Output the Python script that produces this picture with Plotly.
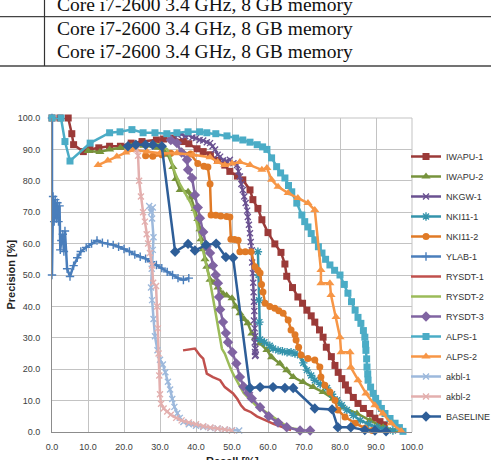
import plotly.graph_objects as go

# ---------------- data (Recall %, Precision %) ----------------
iwapu1_x = [0, 2.2, 4.5, 5.5, 6.0, 8.7, 10.5, 13, 16, 19, 22, 25, 29, 31, 33.6, 36.5, 38, 40.3, 42, 44, 46, 48,
            49.4, 51.5, 53, 55, 55.8, 57.2, 58.3, 60, 61.9, 63.6, 64.7, 65.2, 66.8, 68.3, 69.6, 70.8, 72, 73,
            74.3, 75.3, 76.2, 77.6, 78.6, 79.5, 80.5, 81.5, 82.3, 83.7, 85, 86.5, 88.3, 89.7, 91.1, 92.3]
iwapu1_y = [100, 100, 100, 95, 91.5, 89.3, 90, 90.5, 91, 91, 92, 92.5, 93, 93.3, 93.6, 92.5, 91.8, 90.2, 89.3,
            88.3, 86.5, 85, 83, 81.5, 80.3, 77.1, 74, 71.2, 67.6, 63.5, 59.9, 57.2, 53.5, 49.6, 46, 43, 41, 38.8,
            37, 35, 32.5, 30.2, 27, 24, 21.2, 19, 17, 15, 13.3, 11, 9.1, 7.5, 5.9, 4.4, 3.3, 2.3]

iwapu2_x = [10, 13.3, 16, 19, 22, 25.5, 29.4, 31, 32.2, 33.6, 34.4, 35.6, 37.8, 38.6, 39.7, 40.5, 41.1, 41.4,
            42, 42.5, 43, 43.9, 45, 46.1, 47.5, 48.5, 50, 51, 52.2, 53.3, 54.4, 55.5, 56.5, 57.8, 59.7, 61,
            63.3, 65.2, 67, 69.7, 72.5, 75.3, 78.1, 80.8, 84.7, 88.3, 92, 95.8]
iwapu2_y = [89.5, 89.2, 90, 90.5, 91, 91.2, 90.5, 89.5, 88.3, 84.4, 80.6, 77.1, 76.5, 74.8, 71, 67.8, 64.6,
            61.4, 58.2, 55, 52.6, 48.5, 47.5, 46, 44, 43.5, 42.6, 40, 37.8, 36, 34.6, 31.4, 30, 28.2, 26.1,
            23.8, 21.8, 19.7, 17.5, 15.9, 14.3, 12.7, 10.6, 7.9, 5.9, 3.7, 1.5, 0.5]

nkgw1_x = [35, 36, 37, 38, 39, 40, 41, 42, 43, 43.9, 44.6, 45.3, 46, 46.7, 47.5, 48.5, 49.4, 50.4, 51.4, 51.8,
           52.2, 52.6, 53, 53.4, 53.8, 54.2, 54.4, 54.7, 55, 55.2, 55.5, 55.6, 55.8, 55.9, 56, 56.1, 56.2, 56.1,
           56.3, 56.4, 56.3, 56.5, 56.4, 56.6, 56.4]
nkgw1_y = [94.5, 94.8, 94.2, 94.6, 93.8, 93.6, 93, 92.8, 92.3, 92, 91, 90, 88.3, 87.7, 86.5, 86.3, 86.7, 85.6,
           85, 83, 81.4, 79, 77.1, 75, 72.9, 70.5, 68.5, 66, 63.3, 60.5, 57.9, 54, 50.6, 47.5, 44.5, 41.5,
           38.5, 35.5, 33, 30.5, 28.5, 26.5, 25.5, 24.5, 24.2]

nki111_x = [57.2, 57.4, 57.5, 57.6, 57.8, 59, 60.5, 61.4, 62.8, 64, 65.3, 66.4, 67.5, 68.9, 69.8, 70.8, 72, 73,
            74.5, 76.4, 77.8, 79.2, 80.5, 81.9, 83.7, 85.6, 88, 90.3, 92.5, 94.7]
nki111_y = [57.4, 50, 42, 35, 29.5, 28.6, 27.5, 26.6, 26, 25.7, 25.4, 25.4, 25, 24.4, 22, 19.7, 18, 16.5,
            15.2, 14, 12, 10.1, 8.5, 7, 5.3, 3.7, 2.5, 1.5, 0.9, 0.5]

nki112_x = [26, 28, 30.5, 33, 36, 38.5, 40.5, 42.2, 43.3, 43.9, 44.2, 45.5, 46.9, 48.5, 49.4, 49.7, 50.7, 51.7,
            52.2, 53.7, 55.3, 56.4, 57.2, 57.8, 58.2, 58.6, 59.2, 60.5, 61.9, 63, 64.2, 65.6, 66.4, 67.5, 67.8,
            68.5, 69.2, 71.1, 73, 74.4, 74.7, 75.8, 77.2, 78.6, 79.4, 81.4, 84.2, 86.9, 89]
nki112_y = [88, 87.8, 88.3, 88.8, 89.2, 88.5, 85.5, 84.6, 84.4, 79, 69.1, 69, 68.8, 68.6, 68.5, 61.4, 61.3,
            61.1, 57.4, 57.4, 57.4, 52.6, 51.5, 50.6, 47, 44.6, 41, 40, 39.4, 38.6, 37.8, 35.7, 32.5, 31, 29.3,
            27, 24.5, 23.4, 22.9, 20.7, 17.5, 14.9, 12.7, 10.1, 7, 4.8, 2.8, 1.2, 0.5]

ylab1_x = [0, 0, 0.3, 0.6, 0.9, 1.2, 1.5, 1.8, 2.1, 2.3, 2.6, 3.0, 3.3, 3.6, 4.2, 5.0, 6.0, 7.0, 8.0, 9.5, 11,
           12.5, 14, 15.5, 17, 18.5, 20, 21.5, 23, 24.5, 26, 27.5, 29, 30.5, 32, 33.5, 35, 36.5, 38]
ylab1_y = [100, 50, 75, 67, 74, 68, 73, 67, 72, 58, 61, 63, 57.5, 64, 52, 49.5, 53, 55.5, 57.5, 58.8, 60, 61,
           60.3, 60, 59.6, 59, 58.3, 57.5, 56.5, 55.8, 55.2, 54.2, 53.2, 52.2, 51, 50, 49, 48.4, 49]

rysdt1_x = [36.4, 38, 39.7, 41.1, 42, 42.5, 43, 44.7, 46.7, 48, 49.3, 50.3, 51.5, 52.5, 53.5, 55.3, 56.9, 58.1,
            60, 61.5, 63.6, 65.3, 66.4]
rysdt1_y = [26, 26.3, 26.6, 24.4, 23.4, 21, 18.6, 17.5, 16.5, 14.3, 13.2, 12.3, 10.5, 8.5, 7.2, 6.3, 5, 4.3,
            3.4, 2.6, 1.8, 1.2, 0.6]

rysdt2_x = [28, 30, 32, 33, 34, 35.5, 37, 38.5, 39.5, 40.3, 41, 41.7, 42.3, 43, 43.5, 44.2, 44.8, 45.4, 45.8,
            46.3, 46.7, 47.2, 48, 48.6, 49.5, 50.3, 51.2, 52.2, 53.2, 54.4, 55.8, 57.2, 58.6, 60, 61.4, 62.8,
            64.2, 65.6, 67.5, 70]
rysdt2_y = [92, 91.5, 90, 87, 83, 79, 76, 73, 70, 66.5, 63, 59.5, 56, 53, 50, 46, 42, 38.5, 35.5, 32, 29.3,
            26.5, 25, 22.9, 20.5, 18.5, 16.5, 14.5, 12.5, 11, 9.5, 7.9, 7, 5.9, 4.7, 3.7, 2.6, 1.5, 1, 0.6]

rysdt3_x = [33, 34.7, 36, 37.5, 37.8, 38.9, 39.7, 40.5, 41.1, 42, 42.9, 43.9, 44.7, 45.5, 46.1, 46.4, 46.7,
            47.5, 48.3, 48.9, 50.1, 51.2, 52.2, 53.2, 54.5, 55.5, 57.8, 60.2, 62.8, 65.2, 68.9, 71.7]
rysdt3_y = [93, 92, 89, 86.7, 83.5, 80.9, 75.5, 71.5, 68.1, 63.7, 59, 57, 53, 50, 47.4, 43, 39, 35, 31.5,
            28.6, 25.4, 21.8, 17.5, 14.5, 12.5, 10.7, 7.9, 5, 3, 1.5, 0.5, 0.5]

alps1_x = [0, 2.5, 3.6, 5, 10.6, 16, 18.9, 22.2, 25.3, 28.6, 31.9, 34.7, 37.8, 41, 43, 45.5, 48.6, 51, 53, 55,
           57, 58.5, 59.7, 61, 62.4, 63.5, 64.7, 65.7, 66.6, 68, 69.4, 70.2, 71.1, 72, 73, 74, 75, 76, 77.2,
           78.5, 80, 81.2, 82.2, 83.2, 84.2, 85, 85.8, 86.5, 86.9, 87.1, 87.2, 87.4, 87.5, 87.7, 87.8, 88.5,
           89.2, 89.9, 90.6, 91.5, 92.5, 93.9, 95.3, 96.5, 97.5]
alps1_y = [100, 100, 92.5, 86.3, 92, 95.3, 95.6, 96.3, 95.3, 95.3, 95, 95.3, 95.6, 95.6, 95.3, 95, 94.3, 93.6,
           93, 92.3, 91.5, 90.8, 90, 87.3, 84.5, 82.5, 80.9, 78.5, 76.5, 72.9, 69.1, 67, 65.3, 63.2, 61.2, 59,
           57, 55, 53.2, 51.5, 50, 47, 44.2, 41.5, 38.8, 36.5, 34.6, 32.3, 30.2, 28, 26, 23.3, 20.7, 18.5,
           16.5, 14.3, 12.3, 10.7, 9.1, 7.5, 5.9, 4.3, 2.8, 1.4, 0.2]

alps2_x = [12.8, 15.5, 18, 20.5, 22.5, 26.4, 30, 34.7, 39.2, 43.9, 46, 48, 50, 52.2, 55, 58.3, 59.7, 61, 62.8,
           65.6, 68.3, 71.1, 73, 74.7, 74.7, 77.2, 77.5, 78.9, 80, 80.3, 82.8, 83, 85, 87.2, 89.7, 91.9, 94.2, 97]
alps2_y = [85, 86.5, 87.7, 89, 89.8, 89.3, 88.8, 88.8, 88.3, 87.5, 86, 85, 85.5, 86, 85, 83.5, 84.1, 80.3,
           78.1, 76.1, 74.5, 72.9, 70.7, 51.6, 47.4, 47.4, 43.6, 36.6, 30.2, 25.4, 25.4, 20.6, 16.5, 12.3, 8.5,
           5.9, 2.8, 0.3]

akbl1_x = [27.0, 27.5, 28.0, 27.8, 28.2, 28.0, 27.7, 27.5, 27.8, 28.2, 28.6, 29.3, 30, 30.8, 31.5, 32.2, 32.8,
           33.4, 34, 34.8, 35.5, 36.5, 38, 40, 42, 44, 46, 48, 50, 52]
akbl1_y = [72, 70, 71.5, 68, 62, 58, 52, 46, 42, 36, 30.5, 26, 23, 21.5, 19, 16, 13.5, 10.5, 8, 6, 4.5, 3.2,
           2.5, 2.0, 1.6, 1.3, 1.1, 0.8, 0.6, 0.5]

akbl2_x = [23.5, 23.9, 24.2, 24.7, 25.3, 25.8, 26.3, 26.7, 27.2, 27.8, 28.1, 28.9, 29.2, 29.4, 29.6, 29.8, 30,
           30.3, 31, 32, 33, 34.5, 36, 38, 40, 42, 44, 46, 48, 50]
akbl2_y = [90, 88, 80, 75, 70, 67, 63, 60, 57, 53, 47.5, 46.5, 40, 33, 25, 18, 12, 9, 7.5, 6.5, 5.5, 4.5, 3.7,
           3, 2.5, 1.8, 1.4, 1.1, 0.8, 0.5]

base_x = [21.1, 23.3, 26, 28, 30.5, 34.2, 37.8, 39.7, 42.8, 45.6, 48.3, 50.3, 55, 57.8, 61.4, 64.7, 67, 73,
          77.8, 79.4, 83, 86.9, 89.7, 92.8]
base_y = [91, 91.5, 91.5, 91.5, 91, 57.4, 59.9, 57.8, 59.6, 60, 55.7, 55.5, 14, 14.3, 14.3, 14, 14, 7.5, 7.2,
          1.5, 1.5, 0.6, 0.5, 0.2]

names = ["IWAPU-1", "IWAPU-2", "NKGW-1", "NKI11-1", "NKI11-2", "YLAB-1", "RYSDT-1", "RYSDT-2",
         "RYSDT-3", "ALPS-1", "ALPS-2", "akbl-1", "akbl-2", "BASELINE"]
xs = [iwapu1_x, iwapu2_x, nkgw1_x, nki111_x, nki112_x, ylab1_x, rysdt1_x, rysdt2_x, rysdt3_x,
      alps1_x, alps2_x, akbl1_x, akbl2_x, base_x]
ys = [iwapu1_y, iwapu2_y, nkgw1_y, nki111_y, nki112_y, ylab1_y, rysdt1_y, rysdt2_y, rysdt3_y,
      alps1_y, alps2_y, akbl1_y, akbl2_y, base_y]

colors = ["#9B3A38", "#77933C", "#6A5191", "#3493AB", "#E07A26", "#4A7EBB", "#C0504D", "#9BBB59",
          "#8064A2", "#4BACC6", "#F79646", "#9DB9DC", "#E3AFAE", "#2E5E98"]
symbols = ["square", "triangle-up", "x-thin", "asterisk", "circle", "cross-thin", None, None,
           "diamond", "square", "triangle-up", "x-thin", "x-thin", "diamond"]
sizes = [7, 8, 6, 7, 7, 6, 0, 0, 8, 7, 8, 6, 6, 8]

# ---------------- figure ----------------
W, H = 491, 460
PL, PR, PT, PB = 52, 412, 118, 432   # plot area in pixels


def px2x(p):
    return (p - PL) / (PR - PL)


def px2y(p):
    return (PB - p) / (PB - PT)


fig = go.Figure()
for i, n in enumerate(names):
    sym = symbols[i]
    if sym is None:
        mode = "lines"
        marker = None
    else:
        mode = "lines+markers"
        thin = sym in ("x-thin", "cross-thin", "asterisk")
        marker = dict(symbol=sym, size=sizes[i], color=colors[i],
                      line=dict(color=colors[i], width=1.4 if thin else 0))
    fig.add_trace(go.Scatter(
        x=xs[i], y=ys[i], name=n, mode=mode, legendgroup=n,
        line=dict(color=colors[i], width=2.5),
        marker=marker, cliponaxis=False,
    ))

axis_common = dict(range=[0, 100], dtick=10, tick0=0, tickformat=".1f",
                   showgrid=True, gridcolor="#C3C3C3", gridwidth=1,
                   zeroline=False, showline=True, linecolor="#8C8C8C", linewidth=1,
                   tickfont=dict(family="Liberation Sans, Arial", size=9, color="#404040"),
                   ticks="", fixedrange=True)

fig.update_xaxes(**axis_common, ticklabelstandoff=6)
fig.update_yaxes(**axis_common, ticklabelstandoff=9)

fig.update_layout(
    width=W, height=H,
    margin=dict(l=PL, r=W - PR, t=PT, b=H - PB, autoexpand=False),
    paper_bgcolor="white", plot_bgcolor="white",
    showlegend=True,
    legend=dict(x=px2x(406), y=px2y(142), xanchor="left", yanchor="top",
                font=dict(family="Liberation Sans, Arial", size=9, color="#333333"),
                tracegroupgap=1, bgcolor="rgba(0,0,0,0)", itemwidth=30),
    font=dict(family="Liberation Sans, Arial"),
)

# grid boundary lines at 100 (top/right)
fig.add_shape(type="line", xref="paper", yref="paper", x0=0, x1=1, y0=1, y1=1,
              line=dict(color="#C3C3C3", width=1), layer="below")
fig.add_shape(type="line", xref="paper", yref="paper", x0=1, x1=1, y0=0, y1=1,
              line=dict(color="#C3C3C3", width=1), layer="below")

# axis titles
fig.add_annotation(text="<b>Precision [%]</b>", xref="paper", yref="paper",
                   x=px2x(10.5), y=px2y(275), xanchor="center", yanchor="middle",
                   textangle=-90, showarrow=False,
                   font=dict(size=11, color="#222222", family="Liberation Sans, Arial"))
fig.add_annotation(text="<b>Recall [%]</b>", xref="paper", yref="paper",
                   x=px2x(232), y=px2y(461), xanchor="center", yanchor="middle", showarrow=False,
                   font=dict(size=11, color="#222222", family="Liberation Sans, Arial"))

# table fragment above the chart
table_line = "Core i7-2600 3.4 GHz, 8 GB memory"
for cy in [4, 28.5, 51.5]:
    fig.add_annotation(text=table_line, xref="paper", yref="paper",
                       x=px2x(55), y=px2y(cy), xanchor="left", yanchor="middle", showarrow=False,
                       font=dict(size=19.5, color="#111111", family="Liberation Serif, Times New Roman"))
fig.add_shape(type="line", xref="paper", yref="paper", x0=px2x(0), x1=px2x(W), y0=px2y(16.7), y1=px2y(16.7),
              line=dict(color="#444444", width=1.2))
fig.add_shape(type="line", xref="paper", yref="paper", x0=px2x(0), x1=px2x(W), y0=px2y(66), y1=px2y(66),
              line=dict(color="#444444", width=1.6))
fig.add_shape(type="line", xref="paper", yref="paper", x0=px2x(44.5), x1=px2x(44.5), y0=px2y(-2), y1=px2y(66),
              line=dict(color="#333333", width=1.2))

fig.write_html("out.html")
